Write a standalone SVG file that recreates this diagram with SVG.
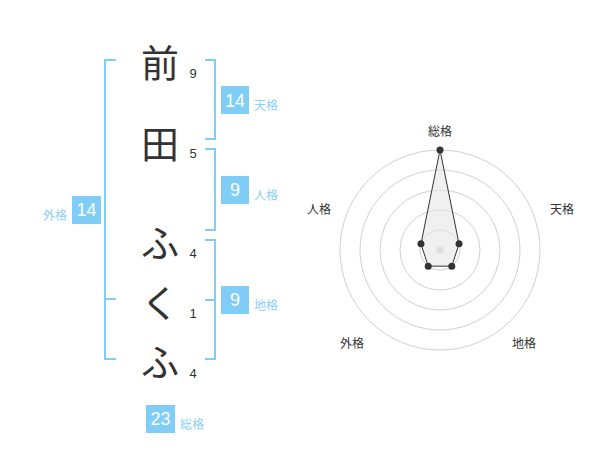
<svg xmlns="http://www.w3.org/2000/svg" width="600" height="470" viewBox="0 0 600 470">
<style>
.ch{font-family:"Noto Sans CJK JP","Noto Sans CJK SC",sans-serif;font-size:38px;fill:#333;text-anchor:middle;dominant-baseline:central}
.num{font-family:"Liberation Sans",Arial,sans-serif;font-size:13px;fill:#333;text-anchor:middle;dominant-baseline:central}
.box{fill:#80cdf8}
.bn{font-family:"Liberation Sans",Arial,sans-serif;font-size:18px;fill:#fff;text-anchor:middle;dominant-baseline:central}
.lb{font-family:"Noto Sans CJK JP","Noto Sans CJK SC",sans-serif;font-size:12px;fill:#8dcff5;dominant-baseline:central}
.br{fill:none;stroke:#80cdf8;stroke-width:2}
.ring{fill:none;stroke:#d0d0d0;stroke-width:1}
.rl{font-family:"Noto Sans CJK JP","Noto Sans CJK SC",sans-serif;font-size:12px;fill:#333;text-anchor:middle;dominant-baseline:central}
.pt{fill:#333}
</style>
<g id="connectors">
<path class="br" d="M116,60 H105 V359 H116 M105,299 H116"/>
<path class="br" d="M205,60 H215 V139 H205"/>
<path class="br" d="M205,149 H215 V230 H205"/>
<path class="br" d="M205,240 H215 V359 H205 M205,300 H215"/>
</g>
<g id="char-mae"><text class="ch" x="160" y="60">前</text><text class="num" x="193" y="73">9</text></g>
<g id="char-ta"><text class="ch" x="160" y="141">田</text><text class="num" x="193" y="153">5</text></g>
<g id="char-fu1"><text class="ch" x="160" y="240">ふ</text><text class="num" x="193" y="253">4</text></g>
<g id="char-ku"><text class="ch" x="160" y="300">く</text><text class="num" x="193" y="313">1</text></g>
<g id="char-fu2"><text class="ch" x="160" y="359">ふ</text><text class="num" x="193" y="373">4</text></g>
<g id="tenkaku"><rect class="box" x="221" y="86" width="28" height="28"/><text class="bn" x="235" y="100.5">14</text><text class="lb" x="254" y="104">天格</text></g>
<g id="jinkaku"><rect class="box" x="221" y="176" width="28" height="28"/><text class="bn" x="235" y="190">9</text><text class="lb" x="254" y="194">人格</text></g>
<g id="chikaku"><rect class="box" x="221" y="286" width="28" height="28"/><text class="bn" x="235" y="300">9</text><text class="lb" x="254" y="304">地格</text></g>
<g id="gaikaku"><rect class="box" x="72" y="196" width="29" height="28"/><text class="bn" x="86.5" y="210">14</text><text class="lb" x="67" y="214" text-anchor="end">外格</text></g>
<g id="soukaku"><rect class="box" x="146" y="405" width="29" height="28"/><text class="bn" x="160.5" y="419">23</text><text class="lb" x="180" y="423">総格</text></g>
<g id="radar">
<circle class="ring" cx="440" cy="250" r="20"/>
<circle class="ring" cx="440" cy="250" r="40"/>
<circle class="ring" cx="440" cy="250" r="60"/>
<circle class="ring" cx="440" cy="250" r="80"/>
<circle class="ring" cx="440" cy="250" r="100"/>
<circle cx="440" cy="250" r="3.5" fill="#cfcfcf"/>
<polygon points="440,150 459.02,243.82 451.76,266.18 428.24,266.18 420.98,243.82" fill="#e6e6e6" fill-opacity="0.6" stroke="#333" stroke-width="1"/>
<circle class="pt" cx="440" cy="150" r="3.5"/>
<circle class="pt" cx="459.02" cy="243.82" r="3.5"/>
<circle class="pt" cx="451.76" cy="266.18" r="3.5"/>
<circle class="pt" cx="428.24" cy="266.18" r="3.5"/>
<circle class="pt" cx="420.98" cy="243.82" r="3.5"/>
<text class="rl" x="440" y="130">総格</text>
<text class="rl" x="562" y="208">天格</text>
<text class="rl" x="319" y="208">人格</text>
<text class="rl" x="524" y="342">地格</text>
<text class="rl" x="352" y="342">外格</text>
</g>
</svg>
